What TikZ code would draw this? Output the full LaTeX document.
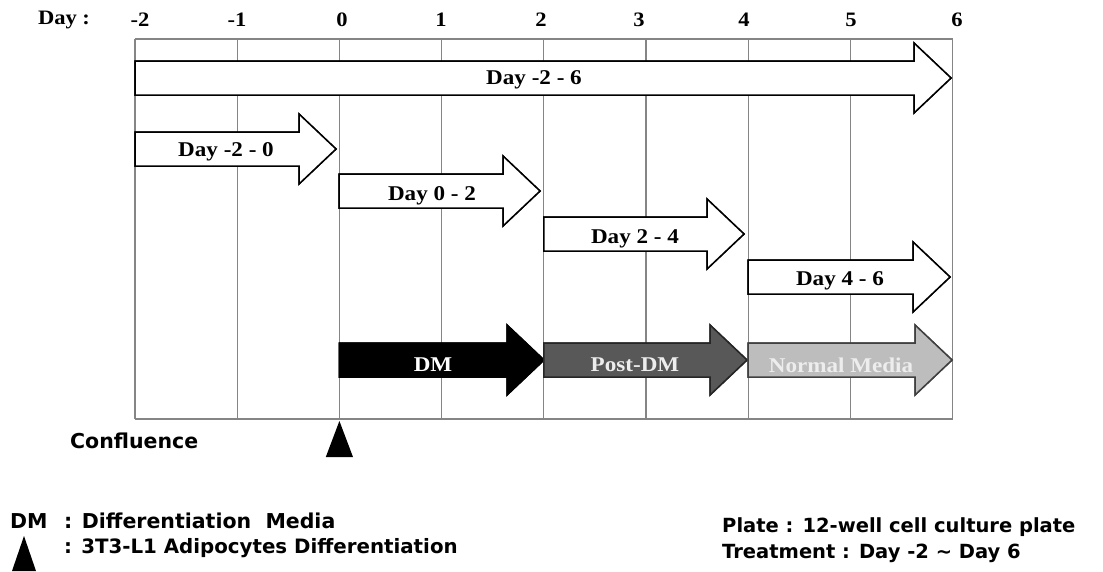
\documentclass[tikz,border=0pt]{standalone}
\usepackage{fontspec}
\setmainfont{Liberation Serif}
\newfontfamily\sansfnt{DejaVu Sans}
\definecolor{gridgray}{HTML}{858585}
\definecolor{postdm}{HTML}{585858}
\definecolor{normalm}{HTML}{BDBDBD}
\definecolor{normaltxt}{HTML}{EDEDED}
\tikzset{
  gridline/.style={draw=gridgray, line width=1.3pt},
  blockarr/.style={draw=black, line width=1.5pt, line join=miter, fill=white},
  daylbl/.style={font=\fontsize{20.5}{24}\selectfont\bfseries, inner sep=0pt},
  arrlbl/.style={font=\fontsize{21}{25}\selectfont\bfseries, inner sep=0pt},
  sanslbl/.style={font=\sansfnt\fontsize{20.5}{24}\selectfont\bfseries, inner sep=0pt, anchor=west},
  platelbl/.style={font=\sansfnt\fontsize{19.5}{23}\selectfont\bfseries, inner sep=0pt, anchor=west},
}
% \barr{xstart}{xtip}{ycenter}{style}
\newcommand\barr[4]{%
  \fill[#4] (#1,#3-17) -- (#2-37,#3-17) -- (#2-37,#3-35) -- (#2,#3) -- (#2-37,#3+35) -- (#2-37,#3+17) -- (#1,#3+17) -- cycle;
  \draw[#4] (#1,#3-17) -- (#2-37,#3-17) -- (#2-37,#3-35) -- (#2,#3) -- (#2-37,#3+35) -- (#2-37,#3+17) -- (#1,#3+17) -- cycle;}
\begin{document}
\begin{tikzpicture}[x=1pt,y=-1pt]
\useasboundingbox (0,0) rectangle (1103,571);
\fill[white] (0,0) rectangle (1103,571);
% grid
\foreach \i in {0,...,8} {
  \draw[gridline] ({135+102.2*\i},39) -- ({135+102.2*\i},419);
}
\draw[gridline] (135,39) -- (952.6,39);
\draw[gridline] (135,419) -- (952.6,419);
% day labels
\node[daylbl] (dayhdr) at (64,20) {\scalebox{1.1}[1]{Day :}};
\foreach \d/\x in {-2/140,-1/237,0/342,1/441,2/541,3/639,4/744,5/851,6/957} {
  \node[daylbl] (d\d) at (\x,20) {\scalebox{1.1}[1]{\d}};
}
% white block arrows
\barr{135}{951}{78}{blockarr}
\barr{135}{336}{149}{blockarr}
\barr{339}{540}{191}{blockarr}
\barr{543.8}{744}{234}{blockarr}
\barr{748.2}{950}{277}{blockarr}
\node[arrlbl] (a1) at (534,80) {\scalebox{1.1}[1]{Day -2 - 6}};
\node[arrlbl] (a2) at (226,152) {\scalebox{1.1}[1]{Day -2 - 0}};
\node[arrlbl] (a3) at (432,196) {\scalebox{1.1}[1]{Day 0 - 2}};
\node[arrlbl] (a4) at (635,239) {\scalebox{1.1}[1]{Day 2 - 4}};
\node[arrlbl] (a5) at (840,281) {\scalebox{1.1}[1]{Day 4 - 6}};
% media arrows
\barr{339.4}{544}{360}{blockarr, fill=black}
\barr{543.8}{747}{360}{blockarr, fill=postdm, draw=black!85}
\barr{748.2}{952}{360}{blockarr, fill=normalm, draw=black!75}
\node[arrlbl, text=white] (m1) at (433,365) {\scalebox{1.1}[1]{DM}};
\node[arrlbl, text=normaltxt] (m2) at (635,365) {\scalebox{1.1}[1]{Post-DM}};
\node[arrlbl, text=normaltxt] (m3) at (841,365) {\scalebox{1.1}[1]{Normal Media}};
% confluence
\node[sanslbl] (conf) at (70,441) {Confluence};
\fill[black] (339.4,421) -- (353,457) -- (325.8,457) -- cycle;
% legend
\node[sanslbl] (lg1a) at (10,521) {DM};
\node[sanslbl] (lg1b) at (64,521) {: Differentiation\ \ Media};
\fill[black] (24,536) -- (36,571) -- (12,571) -- cycle;
\node[sanslbl, font=\sansfnt\fontsize{19.8}{24}\selectfont\bfseries] (lg2) at (64,548) {: 3T3-L1 Adipocytes Differentiation};
\node[platelbl] (pl1) at (722,527) {Plate : 12-well cell culture plate};
\node[platelbl] (pl2) at (722,553) {Treatment : Day -2 \textasciitilde\ Day 6};
\end{tikzpicture}
\end{document}
